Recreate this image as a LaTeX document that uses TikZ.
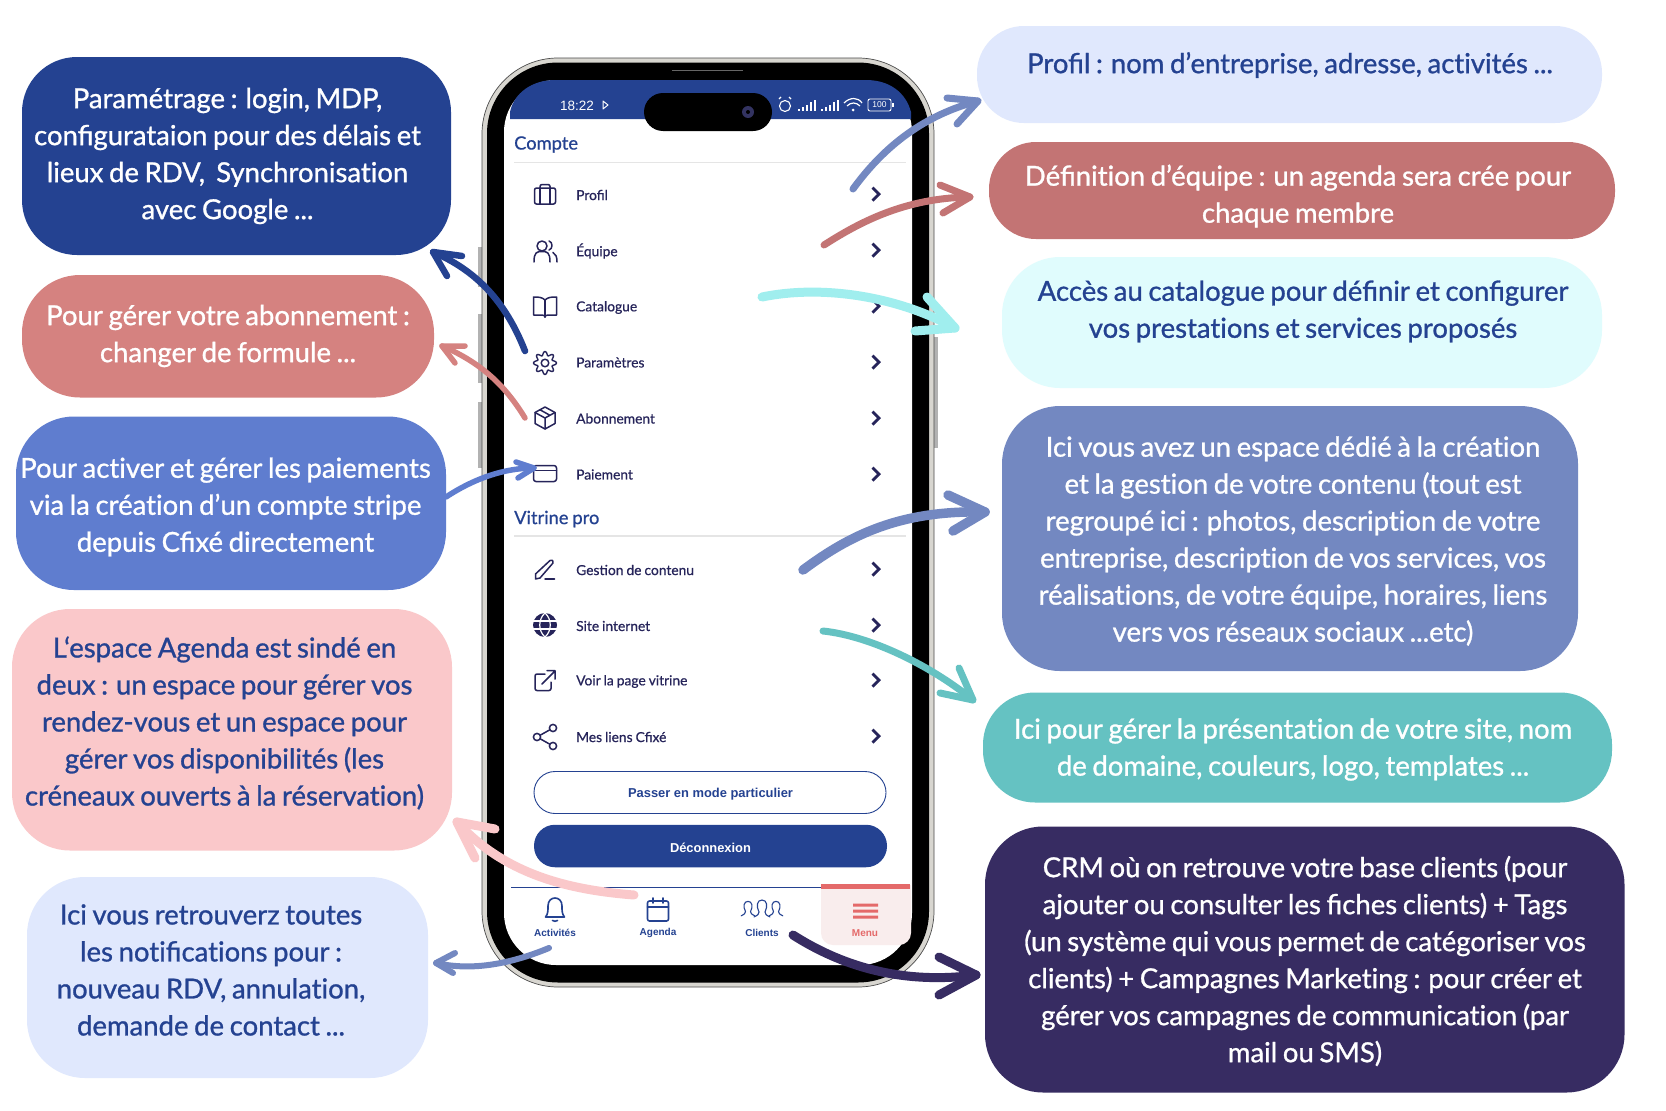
\documentclass[tikz,border=0pt]{standalone}
\usepackage{fontspec}
\setmainfont{Lato}
\newfontfamily\latom{Lato}[FakeBold=1.0,WordSpace=0.8]
\newfontfamily\latos{Lato}[FakeBold=0.6,WordSpace=0.85]
\newfontfamily\robo{Liberation Sans}
\newfontfamily\robob{Liberation Sans Bold}
\newcommand{\nolig}{\kern0pt\relax}
\definecolor{navy}{HTML}{244291}
\definecolor{ink}{HTML}{26245A}
\definecolor{cSalmon}{HTML}{D58280}
\definecolor{cBlue}{HTML}{5F7DCF}
\definecolor{cPink}{HTML}{FAC8CA}
\definecolor{cPale}{HTML}{E0E8FD}
\definecolor{cRose}{HTML}{C37474}
\definecolor{cCyan}{HTML}{E0FCFD}
\definecolor{cSlate}{HTML}{7388C1}
\definecolor{cTeal}{HTML}{65C2C2}
\definecolor{cPlum}{HTML}{372C62}
\definecolor{cAqua}{HTML}{A0EEEE}
\definecolor{tabred}{HTML}{E46A6A}
\definecolor{tabbg}{HTML}{F9EDED}
\definecolor{silver}{HTML}{D8D6D0}
\tikzset{
  callout/.style={inner sep=0pt,outer sep=0pt,text depth=0pt},
  bubbletext/.style={align=center,inner sep=0pt,font=\latom\fontsize{27.5}{37}\selectfont},
  rowlabel/.style={anchor=west,inner sep=0pt,text=ink,font=\latos\fontsize{13.8}{16}\selectfont},
  section/.style={anchor=west,inner sep=0pt,text=navy,font=\latos\fontsize{18.3}{20}\selectfont},
  tablabel/.style={inner sep=0pt,font=\robob\fontsize{10}{12}\selectfont},
  icon/.style={draw=ink,line width=1.5pt,line join=round,line cap=round},
  chev/.style={draw=ink,line width=2.8pt,line join=miter},
  tabicon/.style={draw=navy,line width=1.6pt,line join=round,line cap=round},
  hand/.style={line cap=round,line join=round},
}
% name x1 y1 x2 y2 radius fill
\newcommand{\bubble}[7]{%
  \node[callout,fill=#7,rounded corners=#6pt,minimum width={(#4-#2)*1pt},minimum height={(#5-#3)*1pt}]
    (#1) at ({(#2+#4)/2},{(#3+#5)/2}) {};}
% name color width start c1 c2 tip barb1 barb2
\newcommand{\handarrow}[9]{%
  \coordinate (#1s) at #4; \coordinate (#1t) at #7;
  \coordinate (#1a) at #8; \coordinate (#1b) at #9;
  \draw[hand,draw=#2,line width=#3pt] (#1s) .. controls #5 and #6 .. (#1t);
  \draw[hand,draw=#2,line width=#3pt] (#1a) -- (#1t) -- (#1b);}
\newcommand{\chevron}[1]{\draw[chev] (872.5,#1-6.5) -- (879,#1) -- (872.5,#1+6.5);}
\begin{document}
\begin{tikzpicture}[x=1pt,y=-1pt]
\useasboundingbox (0,0) rectangle (1666,1111);
\fill[white] (0,0) rectangle (1666,1111);
% ---- phone body
\fill[gray!60] (478,247) rectangle (484,287);
\fill[gray!60] (478,314) rectangle (484,383);
\fill[gray!60] (478,402) rectangle (484,468);
\fill[gray!60] (932,337) rectangle (938,448);
\draw[draw=gray!60!black,fill=silver,line width=0.7pt,rounded corners=76pt] (482,58) rectangle (934,987);
\fill[black,rounded corners=71pt] (487,62.5) rectangle (929,982.5);
\fill[white,rounded corners=52pt] (504,80) rectangle (912,965);
% status bar
\fill[navy] (510,119) -- (510,112) .. controls (514,93) and (532,80) .. (555,80) -- (866,80)
   .. controls (890,80) and (906,93) .. (911,112) -- (911,119) -- cycle;
\fill[black,rounded corners=19pt] (644,93) rectangle (772,131);
\fill[black!70!blue!60!gray] (748,112) circle (6);
\fill[black] (748,112) circle (2);
\draw[black!60,line width=1pt] (672,70) -- (743,70);
\node[inner sep=0pt,text=white,font=\robo\fontsize{13.5}{15}\selectfont] (clock) at (577,105.5) {18:22};
\draw[white,line width=1pt,line join=round] (603,101) -- (608,105) -- (603,109) -- cycle;
\draw[white,line width=1.1pt] (785,106) circle (5.5);
\draw[white,line width=1.1pt] (779,99) -- (781,97) (791,99) -- (789,97);
\foreach \b/\h in {798/2,802/4,806/6,810/9,814/11,821/2,825/4,829/6,833/9,837/11}
  \fill[white] (\b,111) rectangle +(2.2,-\h);
\draw[white,line width=1.2pt] (844,103) .. controls (850,97) and (858,97) .. (862,103);
\draw[white,line width=1.2pt] (847,106) .. controls (851,102) and (856,102) .. (860,106);
\fill[white] (853,110) circle (1.5);
\draw[white,line width=0.9pt,rounded corners=2pt] (868,99) rectangle (891,111);
\fill[white] (892,103) rectangle (893.5,107);
\node[inner sep=0pt,text=white,font=\robo\fontsize{8.5}{9}\selectfont] (batt) at (879.5,105) {100};
% ---- menu
\node[section] (compte) at (514,144.5) {Compte};
\draw[gray!20,line width=1pt] (514,162) -- (906,162);
\node[rowlabel] (profil) at (576,195) {Profil};
\node[rowlabel] (equipe) at (576,251) {Équipe};
\node[rowlabel] (catalogue) at (576,307.5) {Catalogue};
\node[rowlabel] (parametres) at (576,362.5) {Paramètres};
\node[rowlabel] (abonnement) at (576,418.5) {Abonnement};
\node[rowlabel] (paiement) at (576,474.5) {Paiement};
\node[section] (vitrine) at (514,519) {Vitrine pro};
\draw[gray!20,line width=1.4pt] (514,536) -- (906,536);
\node[rowlabel] (gestion) at (576,570) {Gestion de contenu};
\node[rowlabel] (site) at (576,626) {Site internet};
\node[rowlabel] (voir) at (576,681.5) {Voir la page vitrine};
\node[rowlabel] (liens) at (576,737) {Mes liens Cfixé};
\foreach \y in {195,251,307,363,419,475,570,626,681,737} {\chevron{\y-0.8}}
% briefcase
\begin{scope}[shift={(545,195)}]
\draw[icon,rounded corners=2pt] (-10.5,-7) rectangle (10.5,9);
\draw[icon] (-5,-7) -- (-5,9) (5,-7) -- (5,9);
\draw[icon,rounded corners=2pt] (-5,-7) -- (-5,-10.5) -- (5,-10.5) -- (5,-7);
\end{scope}
% users
\begin{scope}[shift={(545,251)}]
\draw[icon] (-3,-5) circle (5);
\draw[icon] (-11,11) .. controls (-11,1) and (-8,0.5) .. (-3,0.5) .. controls (2,0.5) and (5,1) .. (5,11);
\draw[icon] (4,-10) .. controls (8,-9) and (8,-2) .. (4,-1);
\draw[icon] (8,1.5) .. controls (11,3) and (12,6) .. (12,11);
\end{scope}
% book
\begin{scope}[shift={(545,307)}]
\draw[icon] (0,-7) .. controls (-3,-10) and (-7,-10) .. (-11.5,-10) -- (-11.5,8) -- (-3,8) .. controls (-1,8) and (0,9) .. (0,10);
\draw[icon] (0,-7) .. controls (3,-10) and (7,-10) .. (11.5,-10) -- (11.5,8) -- (3,8) .. controls (1,8) and (0,9) .. (0,10);
\draw[icon] (0,-7) -- (0,10);
\end{scope}
% gear
\begin{scope}[shift={(545,363)}]
\draw[icon,line width=1.4pt] plot[domain=0:360,samples=97,smooth] ({(9.6+1.9*cos(8*\x))*cos(\x)},{(9.6+1.9*cos(8*\x))*sin(\x)}) -- cycle;
\draw[icon] (0,0) circle (3.8);
\end{scope}
% box
\begin{scope}[shift={(545,418)}]
\draw[icon] (0,-11) -- (10,-5.5) -- (10,5.5) -- (0,11) -- (-10,5.5) -- (-10,-5.5) -- cycle;
\draw[icon] (-10,-5.5) -- (0,0) -- (10,-5.5) (0,0) -- (0,11) (-5,-8.2) -- (5,-2.7);
\end{scope}
% card
\begin{scope}[shift={(545,473.5)}]
\draw[icon,rounded corners=2.5pt] (-11.5,-8) rectangle (11.5,8);
\draw[icon] (-11.5,-3) -- (11.5,-3);
\end{scope}
% pen
\begin{scope}[shift={(545,570)}]
\draw[icon] (-9.5,9) -- (-9.5,4) -- (5,-9.5) .. controls (7,-11) and (9,-9) .. (8,-7) -- (-5,8) -- cycle;
\draw[icon] (0,9) -- (9.5,9);
\end{scope}
% globe
\begin{scope}[shift={(545,625)}]
\fill[ink] (0,0) circle (12);
\draw[white,line width=1.2pt] (-12,-4) -- (12,-4) (-12,4) -- (12,4);
\draw[white,line width=1.2pt] (0,-12) .. controls (-7,-6) and (-7,6) .. (0,12) .. controls (7,6) and (7,-6) .. (0,-12);
\end{scope}
% external link
\begin{scope}[shift={(545,681)}]
\draw[icon,rounded corners=2pt] (0,-7) -- (-10,-7) -- (-10,9.5) -- (6,9.5) -- (6,1);
\draw[icon] (-3,3) -- (10,-10) (2,-10.5) -- (10,-10.5) -- (10,-2);
\end{scope}
% share
\begin{scope}[shift={(545,737)}]
\draw[icon] (-8,0) circle (3.6) (8,-9) circle (3.6) (8,9) circle (3.6);
\draw[icon] (-4.8,-1.8) -- (4.8,-7.2) (-4.8,1.8) -- (4.8,7.2);
\end{scope}
% buttons
\node[draw=navy,fill=white,line width=0.9pt,rounded corners=21pt,minimum width=352pt,minimum height=42pt,inner sep=0pt] (btnpart) at (710,792.5) {};
\node[fill=navy,rounded corners=21pt,minimum width=353pt,minimum height=42.5pt,inner sep=0pt] (btndeco) at (710.5,846) {};
\node[inner sep=0pt,text=navy,font=\robob\fontsize{12.9}{14}\selectfont] (btnparttext) at (710.5,794.5) {Passer en mode particulier};
\node[inner sep=0pt,text=white,font=\robob\fontsize{12.9}{14}\selectfont] (btndecotext) at (710.5,847.5) {Déconnexion};
% tab bar
\draw[navy,line width=1pt] (511,887) -- (825,887);
\fill[tabbg,rounded corners=12pt] (821,885) rectangle (911,945);
\fill[tabbg] (821,885) rectangle (911,900);
\fill[tabred] (821,884) rectangle (910,888.5);
\node[tablabel,text=navy] (tabact) at (555,933) {Activités};
\node[tablabel,text=navy] (tabage) at (658,933) {Agenda};
\node[tablabel,text=navy] (tabcli) at (762,933) {Clients};
\node[tablabel,text=tabred] (tabmen) at (865,933) {Menu};
\begin{scope}[shift={(555,908)}]
\draw[tabicon] (-9.5,9) .. controls (-7,6) and (-7,3) .. (-7,-2) .. controls (-7,-7) and (-4,-10) .. (0,-10) .. controls (4,-10) and (7,-7) .. (7,-2) .. controls (7,3) and (7,6) .. (9.5,9) -- cycle;
\draw[tabicon] (-2.5,12.5) .. controls (-1,13.5) and (1,13.5) .. (2.5,12.5);
\end{scope}
\begin{scope}[shift={(658,910)}]
\draw[tabicon,rounded corners=2pt] (-10.5,-9) rectangle (10.5,11);
\draw[tabicon] (-10.5,-3) -- (10.5,-3) (-5,-12) -- (-5,-7) (5,-12) -- (5,-7);
\end{scope}
\begin{scope}[shift={(762,909)}]
\foreach \dx/\s in {-14/0.85,14/0.85,0/1} {
 \begin{scope}[shift={(\dx,0)},scale=\s]
 \fill[white] (-8,8) .. controls (-4,6) and (-3,5) .. (-3,3) .. controls (-6,-3) and (-5,-9) .. (0,-9) .. controls (5,-9) and (6,-3) .. (3,3) .. controls (3,5) and (4,6) .. (8,8) -- cycle;
 \draw[navy,line width=1.1pt,line cap=round] (-8,8) .. controls (-4,6) and (-3,5) .. (-3,3) .. controls (-6,-3) and (-5,-9) .. (0,-9) .. controls (5,-9) and (6,-3) .. (3,3) .. controls (3,5) and (4,6) .. (8,8);
 \end{scope}}
\end{scope}
\fill[tabred] (853,903.5) rectangle (878,906.5) (853,909.5) rectangle (878,912.5) (853,915.5) rectangle (878,918.5);
% ---- bubbles
\bubble{b1}{22}{57}{451}{255}{55}{navy}
\bubble{b2}{22}{275}{434}{397.5}{58}{cSalmon}
\bubble{b3}{16}{416.5}{446}{590}{58}{cBlue}
\bubble{b4}{12}{609}{452}{850.5}{58}{cPink}
\bubble{b5}{27}{877}{428}{1078}{58}{cPale}
\bubble{b6}{977}{26}{1602}{123}{47}{cPale}
\bubble{b7}{989}{142}{1615}{239}{47}{cRose}
\bubble{b8}{1002}{257}{1602}{388}{58}{cCyan}
\bubble{b9}{1002}{406}{1578}{671}{58}{cSlate}
\bubble{b10}{983}{692.5}{1612}{802.5}{52}{cTeal}
\bubble{b11}{985}{826.5}{1624.5}{1092.5}{58}{cPlum}
\node[bubbletext,text=white] (t1) at (227.5,156) {Paramétrage : login, MDP,\\configurataion pour des délais et\\lieux de RDV,\ \ Synchronisat\nolig ion\\avec Google ...};
\node[bubbletext,text=white] (t2) at (228,336) {Pour gérer votre abonnement :\\changer de formule ...};
\node[bubbletext,text=white] (t3) at (225.5,507) {Pour act\nolig iver et gérer les paiements\\via la créat\nolig ion d’un compte stripe\\depuis Cfixé directement};
\node[bubbletext,text=navy] (t4) at (224.5,723) {L‘espace Agenda est sindé en\\deux : un espace pour gérer vos\\rendez-vous et un espace pour\\gérer vos disponibilités (les\\créneaux ouverts à la réservat\nolig ion)};
\node[bubbletext,text=navy] (t5) at (211,970) {Ici vous retrouverz toutes\\les not\nolig ificat\nolig ions pour :\\nouveau RDV, annulat\nolig ion,\\demande de contact ...};
\node[bubbletext,text=navy] (t6) at (1290,65) {Profil : nom d’entreprise, adresse, act\nolig ivités ...};
\node[bubbletext,text=white] (t7) at (1298,196) {Défini\nolig t\nolig ion d’équipe : un agenda sera crée pour\\chaque membre};
\node[bubbletext,text=navy] (t8) at (1303,311.5) {Accès au catalogue pour définir et configurer\\vos prestat\nolig ions et services proposés};
\node[bubbletext,text=white] (t9) at (1293,541) {Ici vous avez un espace dédié à la créat\nolig ion\\et la gest\nolig ion de votre contenu (tout est\\regroupé ici : photos, descript\nolig ion de votre\\entreprise, descript\nolig ion de vos services, vos\\réalisat\nolig ions, de votre équipe, horaires, liens\\vers vos réseaux sociaux ...etc)};
\node[bubbletext,text=white] (t10) at (1293,749.5) {Ici pour gérer la présentat\nolig ion de votre site, nom\\de domaine, couleurs, logo, templates ...};
\node[bubbletext,text=white] (t11) at (1305,961) {CRM où on retrouve votre base clients (pour\\ajouter ou consulter les fiches clients) + Tags\\(un système qui vous permet de catégoriser vos\\clients) + Campagnes Market\nolig ing : pour créer et\\gérer vos campagnes de communicat\nolig ion (par\\mail ou SMS)};
% ---- arrows
\handarrow{a1}{cSlate}{7}{(853,189)}{(885,145)}{(925,115)}{(978,101)}{(947,98)}{(957,124)}
\handarrow{a2}{cRose}{7}{(824,245)}{(860,222)}{(905,198)}{(970,197)}{(940,185)}{(943,213)}
\handarrow{a3}{cAqua}{9}{(762,297)}{(820,285)}{(895,295)}{(955,328)}{(927,297)}{(915,331)}
\handarrow{a4}{navy}{6.5}{(525,351)}{(505,300)}{(475,270)}{(433,252)}{(462,256)}{(447,276)}
\handarrow{a5}{cSalmon}{5.5}{(525,418)}{(505,385)}{(480,362)}{(442,346)}{(465,346)}{(455,363)}
\handarrow{a6}{cBlue}{5.5}{(446,497)}{(475,478)}{(505,468)}{(534,468)}{(516,462)}{(518,478)}
\handarrow{a7}{cSlate}{9.5}{(803,570)}{(850,535)}{(900,510)}{(985,512)}{(948,495)}{(953,531)}
\handarrow{a8}{cTeal}{7}{(823,631)}{(870,636)}{(930,665)}{(973,700)}{(959,668)}{(940,693)}
\handarrow{a9}{cPink}{9}{(634,895)}{(570,890)}{(505,875)}{(457,822)}{(495,829)}{(475,858)}
\handarrow{a10}{cSlate}{6}{(549,948)}{(515,962)}{(475,972)}{(436,963)}{(455,953)}{(453,973)}
\handarrow{a11}{cPlum}{9}{(793,935)}{(840,965)}{(900,985)}{(976,975)}{(939,957)}{(939,995)}
\end{tikzpicture}
\end{document}
